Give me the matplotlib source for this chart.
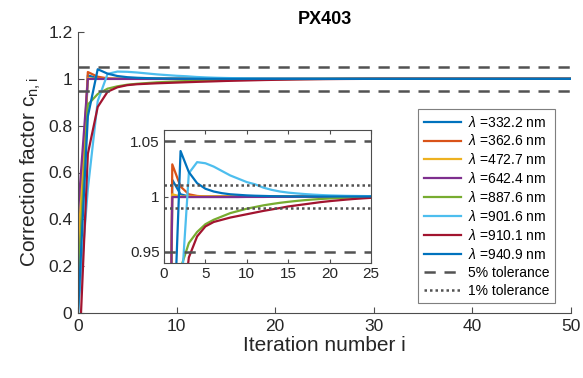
import matplotlib
matplotlib.use("Agg")
import matplotlib.pyplot as plt

plt.rcParams['font.family'] = ['Liberation Sans', 'DejaVu Sans']
plt.rcParams['mathtext.fontset'] = 'custom'
plt.rcParams['mathtext.rm'] = 'Liberation Sans'
plt.rcParams['mathtext.it'] = 'Liberation Sans:italic'

iterations = list(range(51))

wavelengths = ["332.2", "362.6", "472.7", "642.4", "887.6", "901.6", "910.1", "940.9"]
colors = ["#0072BD", "#D95319", "#EDB120", "#7E2F8E", "#77AC30", "#4DBEEE", "#A2142F", "#0072BD"]

c_332 = [0.06, 1.015, 1.002, 1.0, 1.0, 1.0, 1.0, 1.0, 1.0, 1.0,
         1.0, 1.0, 1.0, 1.0, 1.0, 1.0, 1.0, 1.0, 1.0, 1.0,
         1.0, 1.0, 1.0, 1.0, 1.0, 1.0, 1.0, 1.0, 1.0, 1.0,
         1.0, 1.0, 1.0, 1.0, 1.0, 1.0, 1.0, 1.0, 1.0, 1.0,
         1.0, 1.0, 1.0, 1.0, 1.0, 1.0, 1.0, 1.0, 1.0, 1.0, 1.0]
c_362 = [0.20, 1.029, 1.009, 1.002, 1.0005, 1.0, 1.0, 1.0, 1.0, 1.0,
         1.0, 1.0, 1.0, 1.0, 1.0, 1.0, 1.0, 1.0, 1.0, 1.0,
         1.0, 1.0, 1.0, 1.0, 1.0, 1.0, 1.0, 1.0, 1.0, 1.0,
         1.0, 1.0, 1.0, 1.0, 1.0, 1.0, 1.0, 1.0, 1.0, 1.0,
         1.0, 1.0, 1.0, 1.0, 1.0, 1.0, 1.0, 1.0, 1.0, 1.0, 1.0]
c_472 = [0.27, 1.002, 1.0, 1.0, 1.0, 1.0, 1.0, 1.0, 1.0, 1.0,
         1.0, 1.0, 1.0, 1.0, 1.0, 1.0, 1.0, 1.0, 1.0, 1.0,
         1.0, 1.0, 1.0, 1.0, 1.0, 1.0, 1.0, 1.0, 1.0, 1.0,
         1.0, 1.0, 1.0, 1.0, 1.0, 1.0, 1.0, 1.0, 1.0, 1.0,
         1.0, 1.0, 1.0, 1.0, 1.0, 1.0, 1.0, 1.0, 1.0, 1.0, 1.0]
c_642 = [0.43, 0.9995, 0.9995, 0.9995, 0.9995, 0.9995, 0.9995, 0.9995, 0.9995, 0.9995,
         0.9996, 0.9996, 0.9996, 0.9997, 0.9997, 0.9997, 0.9998, 0.9998, 0.9998, 0.9999,
         0.9999, 0.9999, 1.0, 1.0, 1.0, 1.0, 1.0, 1.0, 1.0, 1.0,
         1.0, 1.0, 1.0, 1.0, 1.0, 1.0, 1.0, 1.0, 1.0, 1.0,
         1.0, 1.0, 1.0, 1.0, 1.0, 1.0, 1.0, 1.0, 1.0, 1.0, 1.0]
c_887 = [0.12, 0.89, 0.935, 0.958, 0.968, 0.975, 0.979, 0.982, 0.985, 0.987,
         0.989, 0.9905, 0.992, 0.9932, 0.9943, 0.9952, 0.996, 0.9967, 0.9973, 0.9978,
         0.9982, 0.9986, 0.9989, 0.9992, 0.9994, 0.9996, 0.9997, 0.9998, 0.9999, 0.9999,
         1.0, 1.0, 1.0, 1.0, 1.0, 1.0, 1.0, 1.0, 1.0, 1.0,
         1.0, 1.0, 1.0, 1.0, 1.0, 1.0, 1.0, 1.0, 1.0, 1.0, 1.0]
c_901 = [0.0, 0.53, 0.905, 1.021, 1.031, 1.030, 1.027, 1.023, 1.019, 1.016,
         1.013, 1.011, 1.008, 1.006, 1.0045, 1.0035, 1.0028, 1.0022, 1.0017, 1.0013,
         1.001, 1.0008, 1.0006, 1.0005, 1.0004, 1.0003, 1.0002, 1.0002, 1.0001, 1.0001,
         1.0, 1.0, 1.0, 1.0, 1.0, 1.0, 1.0, 1.0, 1.0, 1.0,
         1.0, 1.0, 1.0, 1.0, 1.0, 1.0, 1.0, 1.0, 1.0, 1.0, 1.0]
c_910 = [-0.3, 0.68, 0.88, 0.945, 0.964, 0.973, 0.977, 0.979, 0.981, 0.9825,
         0.984, 0.9855, 0.987, 0.9883, 0.9896, 0.991, 0.992, 0.993, 0.994, 0.995,
         0.9958, 0.9965, 0.9972, 0.9978, 0.9983, 0.9988, 0.9991, 0.9994, 0.9996, 0.9998,
         0.9999, 1.0, 1.0, 1.0, 1.0, 1.0, 1.0, 1.0, 1.0, 1.0,
         1.0, 1.0, 1.0, 1.0, 1.0, 1.0, 1.0, 1.0, 1.0, 1.0, 1.0]
c_940 = [0.0, 0.84, 1.041, 1.022, 1.012, 1.007, 1.0045, 1.003, 1.002, 1.0015,
         1.001, 1.0007, 1.0005, 1.0003, 1.0002, 1.0001, 1.0, 1.0, 1.0, 1.0,
         1.0, 1.0, 1.0, 1.0, 1.0, 1.0, 1.0, 1.0, 1.0, 1.0,
         1.0, 1.0, 1.0, 1.0, 1.0, 1.0, 1.0, 1.0, 1.0, 1.0,
         1.0, 1.0, 1.0, 1.0, 1.0, 1.0, 1.0, 1.0, 1.0, 1.0, 1.0]

series = [c_332, c_362, c_472, c_642, c_887, c_901, c_910, c_940]

tol5 = 0.05
tol1 = 0.01
tol_color = "#525252"
axis_color = "#4d4d4d"
dash5 = (0, (4.5, 3.5))
dot1 = (0, (1, 1.2))

fig = plt.figure(figsize=(5.83, 3.78), dpi=100)

# main axes
ax = fig.add_axes([78 / 583, 1 - 313 / 378, (571 - 78) / 583, (313 - 32) / 378])
handles = []
for vals, wl, col in zip(series, wavelengths, colors):
    h, = ax.plot(iterations, vals, color=col, lw=1.6, label=r'$\lambda$ =' + wl + ' nm')
    handles.append(h)
h5, = ax.plot([0, 50], [1 + tol5, 1 + tol5], ls=dash5, color=tol_color, lw=1.8,
              label='5% tolerance')
ax.plot([0, 50], [1 - tol5, 1 - tol5], ls=dash5, color=tol_color, lw=1.8)
h1 = plt.Line2D([], [], ls=dot1, color=tol_color, lw=1.8, label='1% tolerance')

ax.set_xlim(0, 50)
ax.set_ylim(0, 1.2)
ax.set_xticks([0, 10, 20, 30, 40, 50])
ax.set_yticks([0, 0.2, 0.4, 0.6, 0.8, 1.0, 1.2])
ax.set_yticklabels(['0', '0.2', '0.4', '0.6', '0.8', '1', '1.2'])
for side in ['top', 'right']:
    ax.spines[side].set_visible(False)
for side in ['left', 'bottom']:
    ax.spines[side].set_color(axis_color)
    ax.spines[side].set_linewidth(0.8)
ax.tick_params(direction='in', length=4, width=0.8, color=axis_color,
               labelsize=12.5, labelcolor='#262626', pad=4)
ax.set_xlabel('Iteration number i', fontsize=15, color='#262626', labelpad=2)
ax.set_ylabel(r'Correction factor c$_{\mathregular{n,i}}$', fontsize=15, color='#262626',
              labelpad=4)
ax.set_title('PX403', fontsize=13, fontweight='bold', color='black', pad=6)

all_handles = handles + [h5, h1]
leg = ax.legend(all_handles, [h.get_label() for h in all_handles],
                loc='upper left', bbox_to_anchor=(418 / 583, 1 - 109 / 378),
                bbox_transform=fig.transFigure, borderaxespad=0, fontsize=10,
                frameon=True, fancybox=False, framealpha=1, edgecolor='#7f7f7f',
                handlelength=2.7, handletextpad=0.5, labelspacing=0.28,
                borderpad=0.4)
leg.get_frame().set_linewidth(0.8)

# inset axes (zoom on iterations 0-25)
ins = fig.add_axes([164 / 583, 1 - 263 / 378, (371 - 164) / 583, (263 - 130) / 378])
for vals, col in zip(series, colors):
    ins.plot(iterations, vals, color=col, lw=1.6)
for lvl in [1 + tol5, 1 - tol5]:
    ins.plot([0, 50], [lvl, lvl], ls=dash5, color=tol_color, lw=1.8)
for lvl in [1 + tol1, 1 - tol1]:
    ins.plot([0, 50], [lvl, lvl], ls=dot1, color=tol_color, lw=1.8)
ins.set_xlim(0, 25)
ins.set_ylim(0.94, 1.06)
ins.set_xticks([0, 5, 10, 15, 20, 25])
ins.set_yticks([0.95, 1.0, 1.05])
ins.set_yticklabels(['0.95', '1', '1.05'])
for side in ins.spines:
    ins.spines[side].set_color(axis_color)
    ins.spines[side].set_linewidth(0.8)
ins.tick_params(direction='in', length=3, width=0.8, color=axis_color,
                labelsize=11, labelcolor='#262626', pad=3, top=True, right=True)

fig.savefig('out.png', dpi=100)
